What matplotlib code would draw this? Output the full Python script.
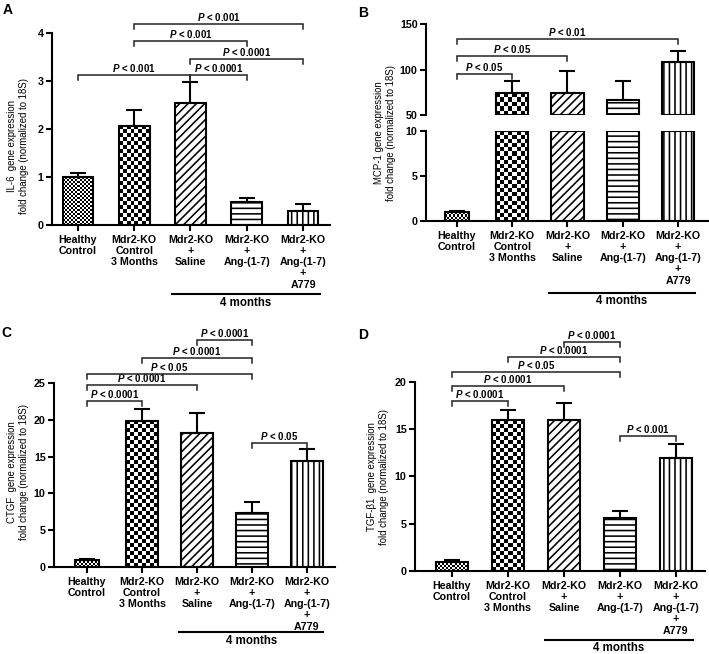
import matplotlib
matplotlib.use('Agg')
import matplotlib.pyplot as plt
import numpy as np
from matplotlib.transforms import blended_transform_factory

plt.rcParams['font.family'] = ['Liberation Sans', 'DejaVu Sans']
plt.rcParams['mathtext.fontset'] = 'custom'
plt.rcParams['mathtext.it'] = 'Liberation Sans:italic:bold'
plt.rcParams['mathtext.rm'] = 'Liberation Sans:bold'
plt.rcParams['hatch.linewidth'] = 1.15

# ---------------- data ----------------
categories = ['Healthy\nControl', 'Mdr2-KO\nControl\n3 Months', 'Mdr2-KO\n+\nSaline',
              'Mdr2-KO\n+\nAng-(1-7)', 'Mdr2-KO\n+\nAng-(1-7)\n+\nA779']

il6_mean = [1.00, 2.07, 2.54, 0.48, 0.30]
il6_sem = [0.09, 0.32, 0.44, 0.09, 0.14]

mcp1_mean = [1.0, 74.0, 74.5, 67.0, 108.0]
mcp1_sem = [0.15, 14.0, 24.0, 21.0, 12.4]

ctgf_mean = [1.0, 19.9, 18.2, 7.36, 14.4]
ctgf_sem = [0.15, 1.6, 2.7, 1.45, 1.7]

tgfb1_mean = [0.99, 15.95, 15.95, 5.63, 11.97]
tgfb1_sem = [0.14, 1.02, 1.8, 0.74, 1.41]

il6_sig = [(0, 2, 3.12, '< 0.001'), (2, 3, 3.12, '< 0.0001'), (2, 4, 3.46, '< 0.0001'),
           (1, 3, 3.84, '< 0.001'), (1, 4, 4.19, '< 0.001')]
mcp1_sig = [(0, 1, 95.3, '< 0.05'), (0, 2, 115.3, '< 0.05'), (0, 4, 133.2, '< 0.01')]
ctgf_sig = [(0, 1, 22.6, '< 0.0001'), (0, 2, 24.7, '< 0.0001'), (0, 3, 26.2, '< 0.05'),
            (1, 3, 28.4, '< 0.0001'), (2, 3, 30.8, '< 0.0001'), (3, 4, 16.9, '< 0.05')]
tgfb1_sig = [(0, 1, 18.0, '< 0.0001'), (0, 2, 19.5, '< 0.0001'), (0, 3, 21.05, '< 0.05'),
             (1, 3, 22.6, '< 0.0001'), (2, 3, 24.2, '< 0.0001'), (3, 4, 14.3, '< 0.001')]

# ---------------- style ----------------
patterns = ['fine', 'checker', '////', '---', '|||']
W, H = 709, 654
fig = plt.figure(figsize=(7.09, 6.54), dpi=100)
LW = 1.5
TICKFS = 7.7


def px_axes(x0, x1, ytop, ybot):
    return fig.add_axes([x0 / W, 1 - ybot / H, (x1 - x0) / W, (ybot - ytop) / H])


def style_axes(ax, xlim, ylim, yticks, show_x=True):
    ax.set_xlim(*xlim)
    ax.set_ylim(*ylim)
    ax.set_yticks(yticks)
    ax.set_yticklabels([str(t) for t in yticks], fontsize=TICKFS, fontweight='bold')
    for s in ['top', 'right']:
        ax.spines[s].set_visible(False)
    ax.spines['left'].set_linewidth(LW)
    ax.spines['bottom'].set_linewidth(LW)
    ax.tick_params(axis='y', length=4, width=LW, pad=2)
    if show_x:
        ax.set_xticks(range(len(categories)))
        ax.set_xticklabels(categories, fontsize=TICKFS, fontweight='bold', linespacing=1.15)
        ax.tick_params(axis='x', length=4, width=LW, pad=3)
    else:
        ax.spines['bottom'].set_visible(False)
        ax.set_xticks([])


def draw_bars(ax, means, sems, widths, ylo, yhi, xlim):
    ax.set_xlim(*xlim)
    ax.set_ylim(ylo, yhi)
    for i, (m, s, w, p) in enumerate(zip(means, sems, widths, patterns)):
        if m <= ylo:
            continue
        top = min(m, yhi)
        if p in ('fine', 'checker'):
            cell = 2.0 if p == 'fine' else 4.0
            a = ax.transData.transform((i - w / 2, ylo))
            b = ax.transData.transform((i + w / 2, top))
            nc = max(1, int(round(abs(b[0] - a[0]) / cell)))
            nr = max(1, int(round(abs(b[1] - a[1]) / cell)))
            tex = np.add.outer(np.arange(nr), np.arange(nc)) % 2
            ax.imshow(tex, cmap='gray', vmin=0, vmax=1, extent=(i - w / 2, i + w / 2, ylo, top),
                      origin='lower', interpolation='nearest', aspect='auto', zorder=2)
            ax.bar(i, top - ylo, bottom=ylo, width=w, facecolor='none', edgecolor='black',
                   linewidth=LW, zorder=2.5)
        else:
            ax.bar(i, top - ylo, bottom=ylo, width=w, facecolor='white', edgecolor='black',
                   linewidth=LW, hatch=p, zorder=2.5)
        if ylo <= m <= yhi:
            ax.errorbar(i, m, yerr=[[0], [s]], fmt='none', ecolor='black', elinewidth=LW,
                        capsize=5.7, capthick=LW, zorder=3)
    ax.set_xlim(*xlim)
    ax.set_ylim(ylo, yhi)


def brackets(ax, sigs, tick_px=5):
    for i, j, y, lab in sigs:
        ypx = ax.transData.transform((0, y))[1]
        ylow = ax.transData.inverted().transform((0, ypx - tick_px))[1]
        ax.plot([i, i, j, j], [ylow, y, y, ylow], color='#222222', lw=1.1, clip_on=False,
                solid_joinstyle='miter', zorder=4)
        ax.annotate(r'$P$ ' + lab, xy=((i + j) / 2, y), xytext=(0, 0.8), textcoords='offset points',
                    ha='center', va='bottom', fontsize=7, fontweight='bold', annotation_clip=False)


def months(ax, yline_px, ytext_px):
    tr = blended_transform_factory(ax.transData, fig.transFigure)
    ax.plot([2 - 0.33, 4 + 0.3], [1 - yline_px / H] * 2, color='black', lw=LW, transform=tr,
            clip_on=False)
    ax.text(3 - 0.015, 1 - ytext_px / H, '4 months', transform=tr, ha='center', va='center',
            fontsize=8.3, fontweight='bold')


# ---------------- panel A ----------------
axA = px_axes(52, 330, 33, 225)
xlimA = (-0.462, 4.48)
draw_bars(axA, il6_mean, il6_sem, [0.55] * 5, 0, 4, xlimA)
style_axes(axA, xlimA, (0, 4), [0, 1, 2, 3, 4])
brackets(axA, il6_sig)
months(axA, 294, 303)

# ---------------- panel B (broken axis) ----------------
xlimB = (-0.561, 4.543)
widthsB = [0.42, 0.58, 0.58, 0.58, 0.58]
axB1 = px_axes(426, 708, 131, 221)
draw_bars(axB1, mcp1_mean, mcp1_sem, widthsB, 0, 10, xlimB)
style_axes(axB1, xlimB, (0, 10), [0, 5, 10])
axB2 = px_axes(426, 708, 24, 115.3)
draw_bars(axB2, mcp1_mean, mcp1_sem, widthsB, 50, 150, xlimB)
style_axes(axB2, xlimB, (50, 150), [50, 100, 150], show_x=False)
brackets(axB2, mcp1_sig)
months(axB1, 293, 301)

# ---------------- panel C ----------------
axC = px_axes(54, 335, 383, 567)
xlimC = (-0.6, 4.51)
draw_bars(axC, ctgf_mean, ctgf_sem, [0.43, 0.58, 0.58, 0.58, 0.58], 0, 25, xlimC)
style_axes(axC, xlimC, (0, 25), [0, 5, 10, 15, 20, 25])
brackets(axC, ctgf_sig)
months(axC, 632, 641)

# ---------------- panel D ----------------
axD = px_axes(415, 705, 381.7, 571)
xlimD = (-0.66, 4.52)
draw_bars(axD, tgfb1_mean, tgfb1_sem, [0.58] * 5, 0, 20, xlimD)
style_axes(axD, xlimD, (0, 20), [0, 5, 10, 15, 20])
brackets(axD, tgfb1_sig)
months(axD, 640, 648)

# ---------------- labels ----------------
ylabels = [('IL-6  gene expression\nfold change (normalized to 18S)', 18, 146),
           ('MCP-1 gene expression\nfold change (normalized to 18S)', 385, 133),
           ('CTGF  gene expression\nfold change (normalized to 18S)', 18, 472),
           ('TGF-β1  gene expression\nfold change (normalized to 18S)', 378, 477)]
for txt, x, y in ylabels:
    fig.text(x / W, 1 - y / H, txt, rotation=90, ha='center', va='center', fontsize=6.9,
             multialignment='center', linespacing=1.25)

for lab, x, y in [('A', 8, 10), ('B', 363, 13), ('C', 6, 333), ('D', 363, 335)]:
    fig.text(x / W, 1 - y / H, lab, ha='center', va='center', fontsize=10, fontweight='bold')

fig.savefig('out.png', dpi=100)
